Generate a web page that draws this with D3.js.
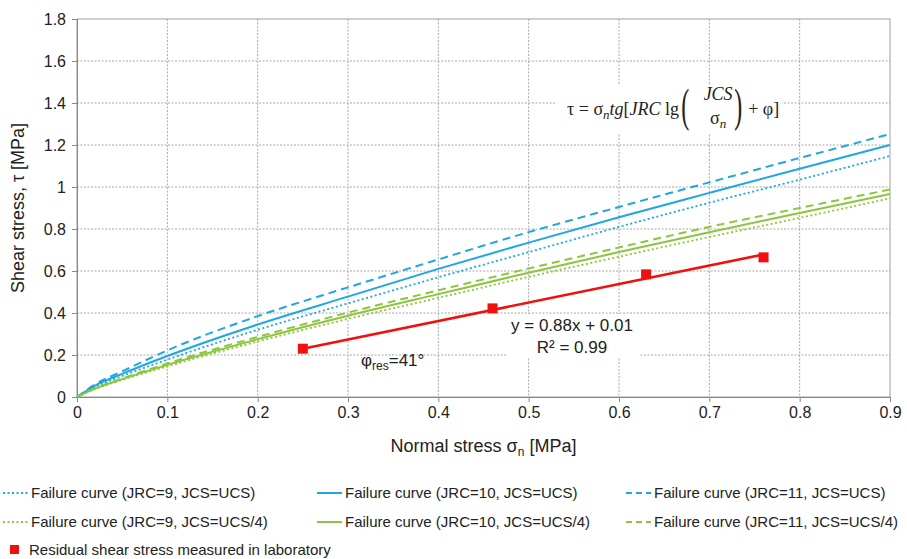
<!DOCTYPE html>
<html lang="en">
<head>
  <meta charset="UTF-8" />
  <title>Shear stress vs normal stress</title>
  <style>
    body { margin: 0; background: #fff; }
    svg { display: block; font-family: "Liberation Sans", Arial, sans-serif; }
    .tick text { fill: #222; }
  </style>
  <script src="https://cdn.jsdelivr.net/npm/d3@7"></script>
</head>
<body>
  <div id="chart"></div>

  <script>
    // normal stress values where the failure curves were read
    const sigma = [0, 0.02, 0.05, 0.1, 0.2, 0.3, 0.4, 0.5, 0.6, 0.7, 0.8, 0.9];

    // failure curves (shear stress, MPa)
    const jrc9Ucs   = [0, 0.048, 0.1, 0.178, 0.32, 0.446, 0.57, 0.69, 0.81, 0.925, 1.035, 1.148];
    const jrc10Ucs  = [0, 0.054, 0.11, 0.195, 0.345, 0.478, 0.61, 0.735, 0.856, 0.972, 1.087, 1.2];
    const jrc11Ucs  = [0, 0.06, 0.122, 0.222, 0.385, 0.522, 0.655, 0.785, 0.905, 1.022, 1.138, 1.252];
    const jrc9Ucs4  = [0, 0.038, 0.081, 0.146, 0.264, 0.372, 0.472, 0.572, 0.668, 0.762, 0.853, 0.946];
    const jrc10Ucs4 = [0, 0.04, 0.085, 0.153, 0.275, 0.387, 0.49, 0.592, 0.69, 0.785, 0.876, 0.967];
    const jrc11Ucs4 = [0, 0.042, 0.088, 0.16, 0.286, 0.402, 0.508, 0.612, 0.712, 0.81, 0.9, 0.988];

    // laboratory residual shear stress
    const labSigma = [0.25, 0.46, 0.63, 0.76];
    const labTau   = [0.23, 0.422, 0.584, 0.665];

    // trendline from the chart label
    const trendSlope = 0.88;
    const trendIntercept = 0.01;

    const xTicks = [0, 0.1, 0.2, 0.3, 0.4, 0.5, 0.6, 0.7, 0.8, 0.9];
    const yTicks = [0, 0.2, 0.4, 0.6, 0.8, 1, 1.2, 1.4, 1.6, 1.8];

    const blue = '#1ea7e1';
    const green = '#8cc63e';
    const red = '#f01010';

    const curves = [
      { name: 'Failure curve (JRC=9, JCS=UCS)',    vals: jrc9Ucs,   color: blue,  dash: '2,2.5', col: 0, row: 0 },
      { name: 'Failure curve (JRC=10, JCS=UCS)',   vals: jrc10Ucs,  color: blue,  dash: null,    col: 1, row: 0 },
      { name: 'Failure curve (JRC=11, JCS=UCS)',   vals: jrc11Ucs,  color: blue,  dash: '8,5',   col: 2, row: 0 },
      { name: 'Failure curve (JRC=9, JCS=UCS/4)',  vals: jrc9Ucs4,  color: green, dash: '2,2.5', col: 0, row: 1 },
      { name: 'Failure curve (JRC=10, JCS=UCS/4)', vals: jrc10Ucs4, color: green, dash: null,    col: 1, row: 1 },
      { name: 'Failure curve (JRC=11, JCS=UCS/4)', vals: jrc11Ucs4, color: green, dash: '8,5',   col: 2, row: 1 }
    ];

    const width = 907, height = 559;
    const pLeft = 77, pRight = 890, pTop = 19, pBottom = 397;

    const svg = d3.select('#chart').append('svg')
      .attr('width', width)
      .attr('height', height);

    svg.append('rect').attr('width', width).attr('height', height).attr('fill', '#fff');

    const x = d3.scaleLinear().domain([0, 0.9]).range([pLeft, pRight]);
    const y = d3.scaleLinear().domain([0, 1.8]).range([pBottom, pTop]);

    // gridlines
    const grid = svg.append('g');
    grid.selectAll('.gx').data(xTicks.slice(1, -1)).enter().append('line')
      .attr('x1', d => x(d)).attr('x2', d => x(d))
      .attr('y1', pTop).attr('y2', pBottom)
      .attr('stroke', '#a8a8a8').attr('stroke-dasharray', '2,1.5');
    grid.selectAll('.gy').data(yTicks.slice(1, -1)).enter().append('line')
      .attr('x1', pLeft).attr('x2', pRight)
      .attr('y1', d => y(d)).attr('y2', d => y(d))
      .attr('stroke', '#a8a8a8').attr('stroke-dasharray', '2,1.5');

    // white boxes behind the annotations
    svg.append('rect').attr('x', 556).attr('y', 84).attr('width', 226).attr('height', 49).attr('fill', '#fff');
    svg.append('rect').attr('x', 506).attr('y', 314).attr('width', 134).attr('height', 44).attr('fill', '#fff');

    // plot border
    svg.append('rect')
      .attr('x', pLeft).attr('y', pTop)
      .attr('width', pRight - pLeft).attr('height', pBottom - pTop)
      .attr('fill', 'none').attr('stroke', '#a0a0a0');

    // axes
    const xAxis = svg.append('g')
      .attr('transform', `translate(0,${pBottom})`)
      .call(d3.axisBottom(x).tickValues(xTicks).tickFormat(d3.format('~g')).tickSize(5).tickPadding(5));
    const yAxis = svg.append('g')
      .attr('transform', `translate(${pLeft},0)`)
      .call(d3.axisLeft(y).tickValues(yTicks).tickFormat(d3.format('~g')).tickSize(5).tickPadding(6));
    [xAxis, yAxis].forEach(a => {
      a.select('.domain').attr('stroke', '#888');
      a.selectAll('.tick line').attr('stroke', '#888');
      a.selectAll('.tick text').attr('font-size', 16).attr('font-family', '"Liberation Sans", Arial, sans-serif');
    });

    // failure curves
    const line = d3.line()
      .x((d, i) => x(sigma[i]))
      .y(d => y(d))
      .curve(d3.curveMonotoneX);

    svg.append('g').selectAll('path').data(curves).enter().append('path')
      .attr('d', d => line(d.vals))
      .attr('fill', 'none')
      .attr('stroke', d => d.color)
      .attr('stroke-width', d => d.dash === '2,2.5' ? 1.8 : 2)
      .attr('stroke-dasharray', d => d.dash);

    // trendline over the lab points
    const xMin = d3.min(labSigma), xMax = d3.max(labSigma);
    svg.append('line')
      .attr('x1', x(xMin)).attr('y1', y(trendSlope * xMin + trendIntercept))
      .attr('x2', x(xMax)).attr('y2', y(trendSlope * xMax + trendIntercept))
      .attr('stroke', red).attr('stroke-width', 2.6);

    svg.append('g').selectAll('rect').data(labSigma).enter().append('rect')
      .attr('x', (d, i) => x(d) - 5)
      .attr('y', (d, i) => y(labTau[i]) - 5)
      .attr('width', 10).attr('height', 10)
      .attr('fill', red);

    // trendline label
    svg.append('text').attr('x', 572).attr('y', 331)
      .attr('text-anchor', 'middle').attr('font-size', 17).attr('fill', '#222')
      .text('y = 0.88x + 0.01');
    svg.append('text').attr('x', 572).attr('y', 353)
      .attr('text-anchor', 'middle').attr('font-size', 17).attr('fill', '#222')
      .text('R² = 0.99');

    // residual friction angle
    const phi = svg.append('text').attr('x', 361).attr('y', 366).attr('font-size', 17).attr('fill', '#222');
    phi.append('tspan').text('φ');
    phi.append('tspan').attr('font-size', 12).attr('dy', 4).text('res');
    phi.append('tspan').attr('dy', -4).text('=41°');

    // formula
    const serif = '"Liberation Serif", "DejaVu Serif", serif';
    const f = svg.append('g').attr('font-family', serif).attr('fill', '#222').attr('font-size', 18);
    const f1 = f.append('text').attr('x', 567).attr('y', 115);
    f1.append('tspan').text('τ = σ');
    f1.append('tspan').attr('font-style', 'italic').attr('font-size', 13).attr('dy', 4).text('n');
    f1.append('tspan').attr('font-style', 'italic').attr('dy', -4).text('tg');
    f1.append('tspan').text('[');
    f1.append('tspan').attr('font-style', 'italic').text('JRC');
    f1.append('tspan').text(' lg');
    const pX = 567 + f1.node().getComputedTextLength() + 2;
    f.append('text').attr('transform', `translate(${pX},121) scale(1,1.9)`).attr('font-size', 24).text('(');
    f.append('text').attr('x', pX + 37).attr('y', 100).attr('text-anchor', 'middle').attr('font-style', 'italic').text('JCS');
    const f2 = f.append('text').attr('x', pX + 37).attr('y', 124).attr('text-anchor', 'middle');
    f2.append('tspan').text('σ');
    f2.append('tspan').attr('font-style', 'italic').attr('font-size', 13).attr('dy', 4).text('n');
    f.append('text').attr('transform', `translate(${pX + 53},121) scale(1,1.9)`).attr('font-size', 24).text(')');
    f.append('text').attr('x', pX + 67).attr('y', 115).text('+ φ]');

    // axis titles
    const xt = svg.append('text').attr('x', (pLeft + pRight) / 2).attr('y', 452)
      .attr('text-anchor', 'middle').attr('font-size', 18).attr('fill', '#222');
    xt.append('tspan').text('Normal stress σ');
    xt.append('tspan').attr('font-size', 12).attr('dy', 4).text('n');
    xt.append('tspan').attr('dy', -4).text(' [MPa]');

    svg.append('text')
      .attr('transform', `translate(24,${(pTop + pBottom) / 2}) rotate(-90)`)
      .attr('text-anchor', 'middle').attr('font-size', 18).attr('fill', '#222')
      .text('Shear stress, τ [MPa]');

    // legend
    const colX = [3, 317, 626];
    const rowY = [493, 522];
    const legend = svg.append('g').attr('font-size', 15).attr('fill', '#222');
    curves.forEach(c => {
      const lx = colX[c.col], ly = rowY[c.row];
      legend.append('line')
        .attr('x1', lx).attr('x2', lx + 25).attr('y1', ly).attr('y2', ly)
        .attr('stroke', c.color).attr('stroke-width', 2)
        .attr('stroke-dasharray', c.dash === '8,5' ? '6,4' : c.dash);
      legend.append('text').attr('x', lx + 28).attr('y', ly + 5).text(c.name);
    });
    legend.append('rect').attr('x', 10).attr('y', 545).attr('width', 9).attr('height', 9).attr('fill', red);
    legend.append('text').attr('x', 29).attr('y', 555).text('Residual shear stress measured in laboratory');
  </script>
</body>
</html>
